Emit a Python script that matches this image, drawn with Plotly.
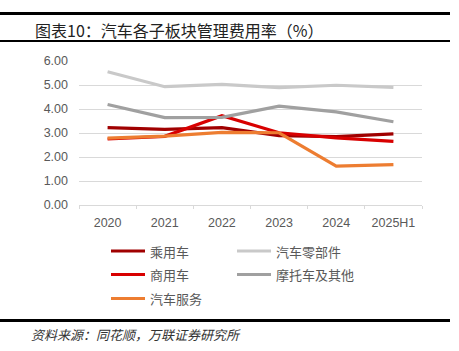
import plotly.graph_objects as go

categories = ["2020", "2021", "2022", "2023", "2024", "2025H1"]
series_names = ["乘用车", "汽车零部件", "商用车", "摩托车及其他", "汽车服务"]
passenger = [3.22, 3.15, 3.22, 2.89, 2.85, 2.96]
parts = [5.55, 4.93, 5.03, 4.89, 4.99, 4.90]
commercial = [2.75, 2.86, 3.72, 3.01, 2.80, 2.65]
moto = [4.19, 3.64, 3.65, 4.12, 3.88, 3.47]
service = [2.79, 2.87, 3.03, 3.01, 1.62, 1.68]
series_values = [passenger, parts, commercial, moto, service]
colors = ["#A00000", "#C9C9C9", "#D80000", "#A0A0A0", "#ED7D31"]
y_ticks = [0, 1, 2, 3, 4, 5, 6]

W, H = 459, 351
L, R, T, B = 79, 422, 61, 205

def px(x):
    return (x - L) / (R - L)

def py(y):
    return (B - y) / (B - T)

fig = go.Figure()
for name, vals, c in zip(series_names, series_values, colors):
    fig.add_trace(go.Scatter(x=categories, y=vals, name=name, mode="lines",
                             line=dict(color=c, width=3.2), showlegend=False))

fig.update_layout(
    width=W, height=H,
    margin=dict(l=L, r=W - R, t=T, b=H - B),
    paper_bgcolor="white", plot_bgcolor="white",
    font=dict(family="Liberation Sans, Arial, sans-serif", color="#595959", size=12.5),
)
fig.update_xaxes(type="category", range=[-0.5, len(categories) - 0.5],
                 showgrid=False, showline=True, linecolor="#D9D9D9",
                 linewidth=1, ticks="outside", tickcolor="#D9D9D9", ticklen=3,
                 tickson="boundaries", ticklabelstandoff=6,
                 tickfont=dict(size=12.5, color="#595959"))
fig.update_yaxes(range=[0, 6], tickvals=y_ticks, tickformat=".2f", showgrid=True,
                 gridcolor="#D9D9D9", gridwidth=1, zeroline=False, showline=False,
                 ticks="", ticklabelstandoff=10,
                 tickfont=dict(size=12.5, color="#595959"))

shapes = []
annotations = []
# header / footer rules
for y0, w in [(13.5, 3), (41, 2), (320.5, 3)]:
    shapes.append(dict(type="line", xref="paper", yref="paper",
                       x0=px(0), x1=px(450), y0=py(y0), y1=py(y0),
                       line=dict(color="black", width=w)))
annotations.append(dict(text="图表10：汽车各子板块管理费用率（%）", xref="paper", yref="paper",
                        x=px(33), y=py(30), xanchor="left", yanchor="middle", showarrow=False,
                        font=dict(family="Noto Sans CJK SC", size=16, color="#222222")))
annotations.append(dict(text="<i>资料来源：同花顺，万联证券研究所</i>", xref="paper", yref="paper",
                        x=px(29), y=py(334), xanchor="left", yanchor="middle", showarrow=False,
                        font=dict(family="Noto Sans CJK SC", size=13, color="#333333")))

# manual legend (row-major, 2 columns)
col_x = [111, 237]
row_y = [251, 274.5, 298.5]
for i, (name, c) in enumerate(zip(series_names, colors)):
    r, col = divmod(i, 2)
    x0 = col_x[col]
    y0 = row_y[r]
    shapes.append(dict(type="line", xref="paper", yref="paper",
                       x0=px(x0), x1=px(x0 + 34), y0=py(y0), y1=py(y0),
                       line=dict(color=c, width=3.2)))
    annotations.append(dict(text=name, xref="paper", yref="paper",
                            x=px(x0 + 37), y=py(y0), xanchor="left", yanchor="middle",
                            showarrow=False,
                            font=dict(family="Noto Sans CJK SC", size=13, color="#595959")))

fig.update_layout(shapes=shapes, annotations=annotations)
fig.write_html("out.html")
